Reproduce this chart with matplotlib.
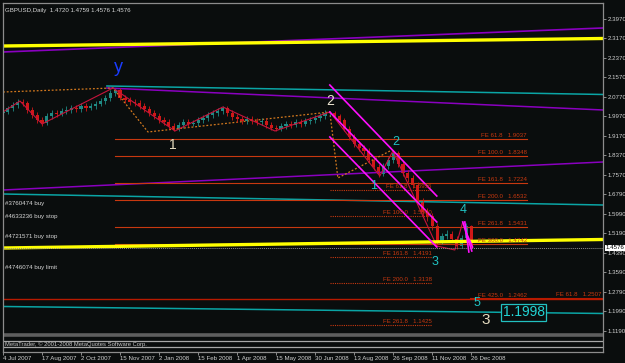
import matplotlib
matplotlib.use("Agg")
import matplotlib.pyplot as plt
import matplotlib.transforms as mtransforms

plt.rcParams["font.family"] = ["Liberation Sans", "DejaVu Sans"]

# ---------------- data ----------------
# one candle every 4 daily bars
closes = [2.0155, 2.0319, 2.0442, 2.0565, 2.0524, 2.0237, 2.0032, 1.9826, 1.9703, 1.9990,
          2.0114, 2.0073, 2.0196, 2.0237, 2.0319, 2.0278, 2.0401, 2.0319, 2.0401, 2.0483,
          2.0606, 2.0729, 2.0934, 2.1057, 2.0729, 2.0647, 2.0565, 2.0524, 2.0401, 2.0278,
          2.0114, 1.9990, 1.9826, 1.9744, 1.9580, 1.9457, 1.9621, 1.9744, 1.9662, 1.9703,
          1.9826, 1.9908, 2.0032, 2.0114, 2.0196, 2.0319, 2.0114, 1.9949, 1.9867, 1.9785,
          1.9867, 1.9785, 1.9744, 1.9785, 1.9621, 1.9498, 1.9457, 1.9580, 1.9662, 1.9621,
          1.9744, 1.9662, 1.9785, 1.9826, 1.9908, 1.9990, 2.0114, 2.0114, 1.9990, 1.9826,
          1.9457, 1.9129, 1.8842, 1.8678, 1.8555, 1.8185, 1.7898, 1.7611, 1.7939, 1.8185,
          1.8473, 1.8021, 1.7652, 1.7447, 1.7160, 1.6503, 1.6052, 1.5888, 1.5478, 1.4821,
          1.5067, 1.5149, 1.4944, 1.4657, 1.4985, 1.5478, 1.4576]
highs = [2.0280, 2.0420, 2.0560, 2.0690, 2.0700, 2.0610, 2.0350, 2.0150, 1.9960, 2.0100,
         2.0250, 2.0230, 2.0320, 2.0380, 2.0430, 2.0450, 2.0520, 2.0510, 2.0540, 2.0600,
         2.0730, 2.0860, 2.1050, 2.1150, 2.1120, 2.0850, 2.0770, 2.0690, 2.0640, 2.0520,
         2.0380, 2.0230, 2.0100, 1.9950, 1.9860, 1.9700, 1.9750, 1.9880, 1.9850, 1.9830,
         1.9950, 2.0020, 2.0160, 2.0240, 2.0300, 2.0380, 2.0400, 2.0230, 2.0070, 1.9980,
         1.9990, 1.9990, 1.9900, 1.9910, 1.9890, 1.9740, 1.9620, 1.9700, 1.9790, 1.9780,
         1.9860, 1.9850, 1.9900, 1.9950, 2.0030, 2.0110, 2.0220, 2.0200, 2.0190, 2.0080,
         1.9920, 1.9560, 1.9250, 1.8960, 1.8800, 1.8660, 1.8300, 1.8010, 1.8050, 1.8300,
         1.8600, 1.8560, 1.8140, 1.7790, 1.7580, 1.7280, 1.6620, 1.6200, 1.6020, 1.5600,
         1.5200, 1.5300, 1.5280, 1.5060, 1.5120, 1.5610, 1.5530]
lows = [1.9990, 2.0060, 2.0210, 2.0330, 2.0400, 2.0120, 1.9900, 1.9700, 1.9580, 1.9620,
        1.9880, 1.9940, 1.9980, 2.0060, 2.0110, 2.0170, 2.0160, 2.0200, 2.0230, 2.0280,
        2.0390, 2.0500, 2.0620, 2.0820, 2.0640, 2.0520, 2.0440, 2.0380, 2.0290, 2.0150,
        1.9990, 1.9860, 1.9700, 1.9610, 1.9450, 1.9380, 1.9390, 1.9500, 1.9540, 1.9560,
        1.9600, 1.9710, 1.9800, 1.9920, 1.9990, 2.0080, 1.9990, 1.9830, 1.9740, 1.9660,
        1.9670, 1.9650, 1.9620, 1.9630, 1.9500, 1.9400, 1.9370, 1.9360, 1.9470, 1.9510,
        1.9520, 1.9550, 1.9560, 1.9680, 1.9720, 1.9800, 1.9880, 1.9980, 1.9870, 1.9700,
        1.9360, 1.9020, 1.8730, 1.8550, 1.8430, 1.8080, 1.7780, 1.7480, 1.7520, 1.7830,
        1.8080, 1.7900, 1.7530, 1.7300, 1.7030, 1.6380, 1.5900, 1.5700, 1.5330, 1.4700,
        1.4720, 1.4950, 1.4820, 1.4530, 1.4560, 1.4900, 1.4480]
first_open = 2.0100
bars_per_point = 4
last_price = 1.4576

date_labels = ["4 Jul 2007", "17 Aug 2007", "2 Oct 2007", "15 Nov 2007", "2 Jan 2008",
               "15 Feb 2008", "1 Apr 2008", "15 May 2008", "30 Jun 2008", "13 Aug 2008",
               "26 Sep 2008", "11 Nov 2008", "26 Dec 2008"]
date_tick_bars = [0, 32, 64, 96, 128, 160, 192, 224, 256, 288, 320, 352, 384]
price_ticks = [2.3970, 2.3170, 2.2370, 2.1570, 2.0770, 1.9970, 1.9170, 1.8370, 1.7570,
               1.6790, 1.5990, 1.5190, 1.4390, 1.3590, 1.2790, 1.1990, 1.1190]

# trend lines: (x bars, prices)
yellow_up = ([0, 492], [2.2862, 2.3170])
purple_up = ([0, 492], [2.2616, 2.3601])
cyan_up = ([85.2, 492], [2.1221, 2.0873])
purple_mid = ([85.2, 492], [2.1139, 2.0237])
purple_low = ([0, 492], [1.6954, 1.8103])
cyan_low = ([0, 492], [1.6790, 1.6339])
yellow_low = ([0, 492], [1.4575, 1.4924])
cyan_bottom = ([0, 492], [1.2175, 1.1888])

channel_x = [268.0, 355.7]
channel_a = [2.1262, 1.6708]
channel_b = [2.0155, 1.5642]
channel_c = [1.9129, 1.4616]
wave_x = [[377.0, 384.4], [378.7, 382.0], [380.0, 385.0]]
wave_y = [[1.5642, 1.4452], [1.5642, 1.4411], [1.5190, 1.4616]]

orange_x = [0, 90.2, 118.9, 268.0, 274.6, 318.9]
orange_y = [2.0975, 2.1139, 1.9334, 2.0155, 1.7447, 1.8596]

zz_x = [0, 13.9, 32.0, 90.2, 141.0, 180.3, 223.0, 268.0, 309.0, 319.7, 355.7, 370.5, 377.0]
zz_y = [2.0155, 2.0606, 1.9662, 2.1139, 1.9375, 2.0360, 1.9375, 2.0155, 1.7529, 1.8555,
        1.4657, 1.4493, 1.5642]

feA_names = ["61.8", "100.0", "161.8", "200.0", "261.8", "300.0"]
feA_levels = [1.9037, 1.8348, 1.7224, 1.6532, 1.5431, 1.4742]
feA_x = [91.8, 429.5]
feB_names = ["61.8", "100.0", "161.8", "200.0", "261.8"]
feB_levels = [1.6956, 1.5900, 1.4191, 1.3138, 1.1425]
feB_x = [268.0, 351.6]
fe425_level = 1.2462
fe425_x = 429.5
feC_level = 1.2507
feC_x = [382.8, 492]

order_labels = ["#3760474 buy", "#4633236 buy stop", "#4721571 buy stop", "#4746074 buy limit"]
order_prices = [1.6380, 1.5847, 1.5026, 1.3755]

wave_labels = [("y", 94.3, 2.1960, "#1a3cff", 13),
               ("1", 139.3, 1.8801, "#e6dcc0", 10),
               ("2", 268.0, 2.0606, "#ece4d0", 10),
               ("2", 322.1, 1.8924, "#20c4c4", 9),
               ("1", 304.1, 1.7119, "#20c4c4", 9),
               ("3", 354.1, 1.4001, "#20c4c4", 9),
               ("4", 377.0, 1.6134, "#20c4c4", 9),
               ("5", 388.5, 1.2319, "#20c4c4", 9),
               ("3", 395.9, 1.1621, "#e6dcc0", 11)]
target_text = "1.1998"
target_pos = (427.0, 1.1930)

sub_lines = [1.0996, 1.0750, 1.0513]

# ---------------- figure ----------------
BG = "#0a0d0d"
fig = plt.figure(figsize=(6.25, 3.63), dpi=100, facecolor=BG)
ax = fig.add_axes([3 / 625, 11 / 363, 600 / 625, 349 / 363], facecolor=BG)
ax.set_xlim(0, 492)
ax.set_ylim(1.0308, 2.4626)

SMALL = 4.4

# horizontal / trend lines
ax.plot(*purple_up, color="#8a00c0", lw=1.2)
ax.plot(*yellow_up, color="#ffff00", lw=2.4, solid_capstyle="butt")
ax.plot(*cyan_up, color="#0aa5a5", lw=1.1)
ax.plot(*purple_mid, color="#8a00c0", lw=1.1)
ax.plot(*purple_low, color="#8a00c0", lw=1.1)
ax.plot(*cyan_low, color="#0aa5a5", lw=1.1)
ax.plot(*cyan_bottom, color="#0aa5a5", lw=1.1)

red = "#c8380f"
for name, lvl in zip(feA_names, feA_levels):
    ax.plot(feA_x, [lvl, lvl], color=red, lw=0.8)
    ax.text(feA_x[1], lvl + 0.004, f"FE {name}   {lvl:.4f}", color=red, fontsize=SMALL,
            ha="right", va="bottom")
for name, lvl in zip(feB_names, feB_levels):
    ax.plot(feB_x, [lvl, lvl], color=red, lw=0.8, ls=(0, (1, 1)))
    ax.text(feB_x[1], lvl + 0.004, f"FE {name}   {lvl:.4f}", color=red, fontsize=SMALL,
            ha="right", va="bottom")
ax.axhline(fe425_level, color="#b81a00", lw=1.0)
ax.text(fe425_x, fe425_level + 0.008, f"FE 425.0   {fe425_level:.4f}", color=red,
        fontsize=SMALL, ha="right", va="bottom")
ax.plot(feC_x, [feC_level, feC_level], color="#b81a00", lw=0.8)
ax.text(feC_x[1] - 1, feC_level + 0.004, f"FE 61.8   {feC_level:.4f}", color=red,
        fontsize=SMALL, ha="right", va="bottom")

# orange dotted wave guide
ax.plot(orange_x, orange_y, color="#d2781e", lw=0.9, ls=(0, (1.5, 1.5)))

# candles
opens = [first_open] + closes[:-1]
xs = [i * bars_per_point for i in range(len(closes))]
for x, o, h, l, c in zip(xs, opens, highs, lows, closes):
    col = "#1f8a84" if c >= o else "#d01818"
    ax.vlines(x, l, h, color=col, lw=0.6)
    ax.bar(x, c - o if c != o else 0.003, bottom=o, width=2.6, color=col, lw=0)

# zigzag
ax.plot(zz_x, zz_y, color="#c8143c", lw=0.8)

# lower yellow line and current price line
ax.plot(*yellow_low, color="#ffff00", lw=2.4, solid_capstyle="butt")
ax.axhline(last_price, color="#8c8c8c", lw=0.7, ls=(0, (1, 1)))

# magenta channel
for ys in (channel_a, channel_b, channel_c):
    ax.plot(channel_x, ys, color="#ff10ff", lw=1.2)
for wx, wy in zip(wave_x, wave_y):
    ax.plot(wx, wy, color="#ff10ff", lw=1.2)

# wave labels
for s, x, y, col, fs in wave_labels:
    ax.text(x, y, s, color=col, fontsize=fs, ha="center", va="center")
ax.text(*target_pos, target_text, color="#22d4d4", fontsize=10, ha="center", va="center",
        bbox=dict(boxstyle="square,pad=0.12", fc=BG, ec="#22c0c0", lw=0.9))

# order labels
for s, p in zip(order_labels, order_prices):
    ax.text(1.5, p, s, color="#d8d8d8", fontsize=SMALL, ha="left", va="center")

# sub window separators
ax.axhline(sub_lines[0], color="#5e5e5e", lw=2.6)
ax.axhline(sub_lines[1], color="#a8a8a8", lw=0.9)
ax.axhline(sub_lines[2], color="#a8a8a8", lw=0.9)
ax.text(1.5, (sub_lines[1] + sub_lines[2]) / 2, "MetaTrader, © 2001-2008 MetaQuotes Software Corp.",
        color="#c8c8c8", fontsize=4.2, ha="left", va="center")

# title
ax.text(0.003, 0.987, "GBPUSD,Daily  1.4720 1.4759 1.4576 1.4576", transform=ax.transAxes,
        color="#d8d8d8", fontsize=SMALL, ha="left", va="top")

# axes styling
for side in ("left", "right", "top", "bottom"):
    ax.spines[side].set_color("#8c8c8c")
    ax.spines[side].set_linewidth(0.9)
ax.yaxis.tick_right()
ax.set_yticks(price_ticks)
ax.set_yticklabels([f"{t:.4f}" for t in price_ticks])
ax.tick_params(axis="y", colors="#8c8c8c", labelcolor="#d0d0d0", labelsize=SMALL,
               length=2, width=0.7, pad=1.2)
ax.set_xticks(date_tick_bars)
ax.set_xticklabels(date_labels)
for lab in ax.get_xticklabels():
    lab.set_horizontalalignment("left")
ax.tick_params(axis="x", colors="#8c8c8c", labelcolor="#d0d0d0", labelsize=SMALL,
               length=2, width=0.7, pad=0.8)

trans = mtransforms.blended_transform_factory(ax.transAxes, ax.transData)
ax.text(1.004, last_price, f"{last_price:.4f}", transform=trans, color="black",
        fontsize=SMALL, ha="left", va="center",
        bbox=dict(boxstyle="square,pad=0.12", fc="white", ec="white", lw=0))

fig.savefig("out.png", dpi=100, facecolor=BG)
